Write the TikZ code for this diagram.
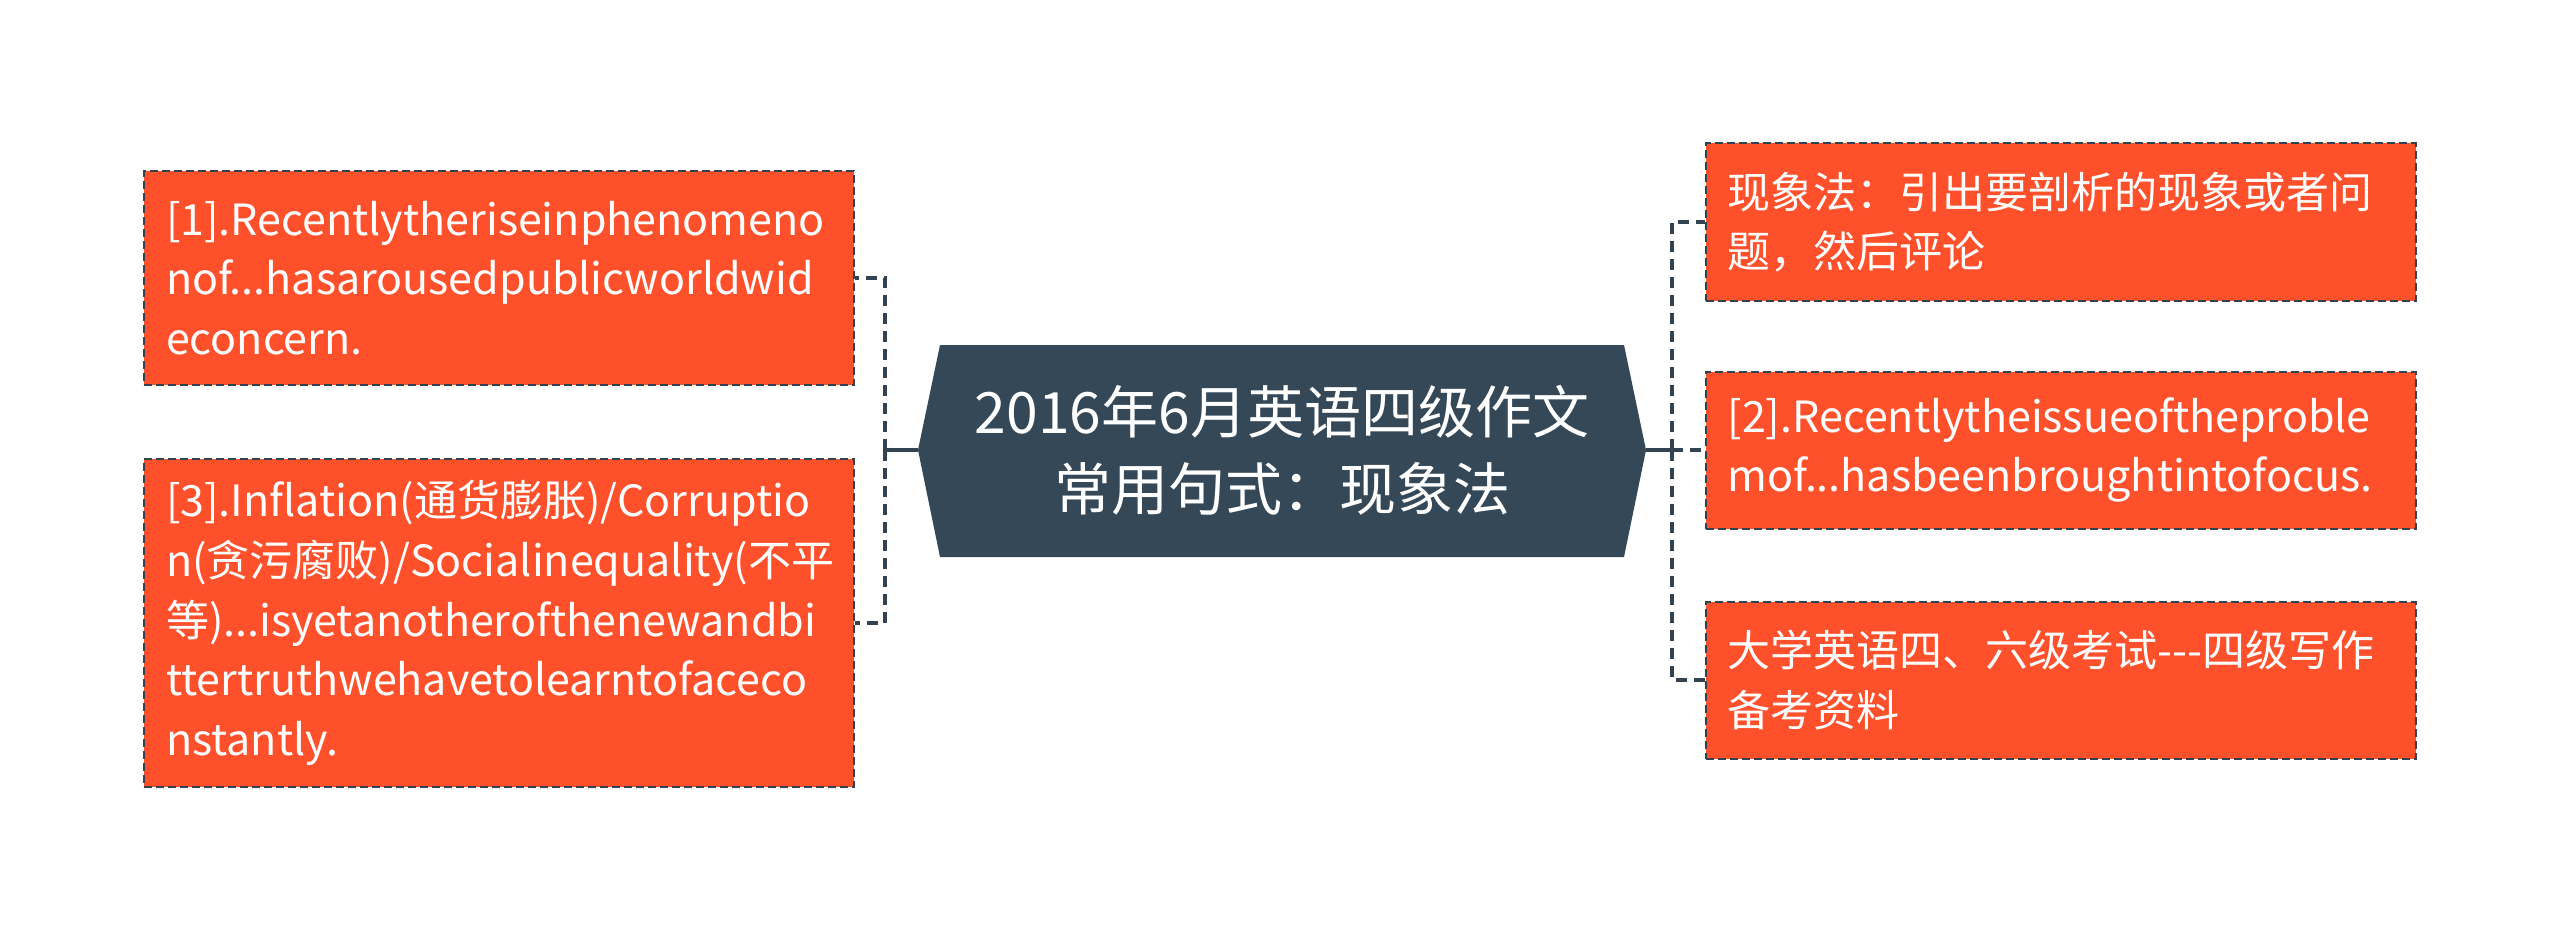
\documentclass[tikz,border=0pt]{standalone}
\usepackage{fontspec}
\setmainfont{Noto Sans CJK SC}
\hyphenpenalty=10000
\exhyphenpenalty=10000
\definecolor{orng}{RGB}{254,80,42}
\definecolor{slate}{RGB}{53,72,88}
\definecolor{edgec}{RGB}{50,66,80}
\tikzset{
  leaf/.style={draw=edgec, fill=orng, dash pattern=on 4pt off 2pt, line width=1pt,
    text=white, font=\fontsize{21.5}{29.8}\selectfont, align=left, text width=333pt,
    inner xsep=11pt, inner ysep=0pt, minimum width=355pt, anchor=center},
  conn/.style={draw=edgec, line width=2pt},
  dconn/.style={conn, dash pattern=on 5.5pt off 3.5pt},
  hub/.style={text=white, font=\fontsize{28.5}{38.5}\selectfont, align=center}
}
\begin{document}
\begin{tikzpicture}[x=0.5pt,y=-0.5pt]
\path[use as bounding box, fill=white] (0,0) rectangle (2560,931);

% central hexagon
\coordinate (cl) at (918,450);
\coordinate (cr) at (1646,450);
\coordinate (jl) at (885,450);
\coordinate (jr) at (1672,450);
\fill[slate] (940,345) -- (1624,345) -- (cr) -- (1624,557) -- (940,557) -- (cl) -- cycle;
\node[hub] (c) at (1282,450) {2016年6月英语四级作文\\常用句式：现象法};

% left leaves
\node[leaf, minimum height=107pt] (l1) at (499,278)
  {[1].Recentlytheriseinphenomeno\\nof...hasarousedpublicworldwid\\econcern.};
\node[leaf, minimum height=164pt] (l3) at (499,623)
  {[3].Inflation(通货膨胀)/Corruptio\\n(贪污腐败)/Socialinequality(不平\\等)...isyetanotherofthenewandbi\\ttertruthwehavetolearntofaceco\\nstantly.};

% right leaves
\node[leaf, minimum height=78.5pt] (r1) at (2060.5,222)
  {现象法：引出要剖析的现象或者问\\题，然后评论};
\node[leaf, minimum height=78.5pt] (r2) at (2060.5,450)
  {[2].Recentlytheissueoftheproble\\mof...hasbeenbroughtintofocus.};
\node[leaf, minimum height=78.5pt] (r3) at (2060.5,680)
  {大学英语四、六级考试-{}-{}-四级写作\\备考资料};

% connectors
\draw[conn] (cl) -- (jl);
\draw[dconn] (jl) |- (l1.east);
\draw[dconn] (jl) |- (l3.east);
\draw[conn] (cr) -- (jr);
\draw[dconn] (jr) |- (r1.west);
\draw[dconn] (jr) -- (r2.west);
\draw[dconn] (jr) |- (r3.west);
\end{tikzpicture}
\end{document}
